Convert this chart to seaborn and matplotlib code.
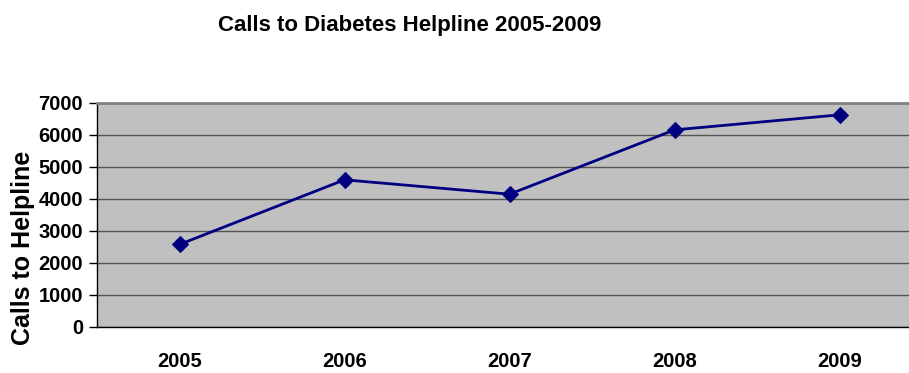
"""
Línea de llamadas a la línea de ayuda de diabetes, 2005-2009.
"""

import matplotlib
matplotlib.use("Agg")
import matplotlib.pyplot as plt
from matplotlib.ticker import FixedLocator
import seaborn as sns

years = ["2005", "2006", "2007", "2008", "2009"]
calls = [2580, 4600, 4150, 6160, 6630]
y_ticks = [0, 1000, 2000, 3000, 4000, 5000, 6000, 7000]


def main():
    sns.set_style("white")
    plt.rcParams["font.family"] = ["Liberation Sans", "DejaVu Sans"]
    plt.rcParams["font.weight"] = "bold"
    plt.rcParams["text.color"] = "black"
    plt.rcParams["axes.labelcolor"] = "black"
    plt.rcParams["xtick.color"] = "black"
    plt.rcParams["ytick.color"] = "black"

    fig = plt.figure(figsize=(9.09, 3.73), dpi=100)
    ax = fig.add_axes([97 / 909, 46 / 373, 825 / 909, 224 / 373])
    ax.set_facecolor("#C0C0C0")

    sns.lineplot(x=years, y=calls, ax=ax, color="#000080", linewidth=2,
                 marker="D", markersize=8, markeredgecolor="#000080")

    ax.set_xlim(-0.5, len(years) - 0.5)
    ax.set_ylim(0, 7000)
    ax.set_yticks(y_ticks)
    ax.set_yticklabels([str(v) for v in y_ticks], fontsize=14.5, fontweight="bold")
    ax.set_xticks(range(len(years)))
    ax.set_xticklabels(years, fontsize=14.5, fontweight="bold")
    ax.tick_params(axis="x", which="major", length=0, pad=18)
    ax.xaxis.set_minor_locator(FixedLocator([i - 0.5 for i in range(len(years) + 1)]))
    ax.tick_params(axis="x", which="minor", length=8, width=1, color="black")
    ax.tick_params(axis="y", length=6, width=1, color="black", left=True, pad=4)

    ax.grid(axis="y", color="#555555", linewidth=1)
    ax.set_axisbelow(True)
    for side in ["left", "bottom"]:
        ax.spines[side].set_color("black")
        ax.spines[side].set_linewidth(1)
    ax.spines["top"].set_color("#808080")
    ax.spines["top"].set_linewidth(2)
    ax.spines["right"].set_visible(False)

    ax.set_xlabel("")
    ax.set_ylabel("Calls to Helpline", fontsize=18, fontweight="bold")
    ax.yaxis.set_label_coords((35 - 97) / 825, (327 - 248) / 224)
    fig.text(410 / 909, 1 - 25 / 373, "Calls to Diabetes Helpline 2005-2009",
             ha="center", va="center", fontsize=16, fontweight="bold")

    fig.savefig("out.png", dpi=100)


if __name__ == "__main__":
    main()
